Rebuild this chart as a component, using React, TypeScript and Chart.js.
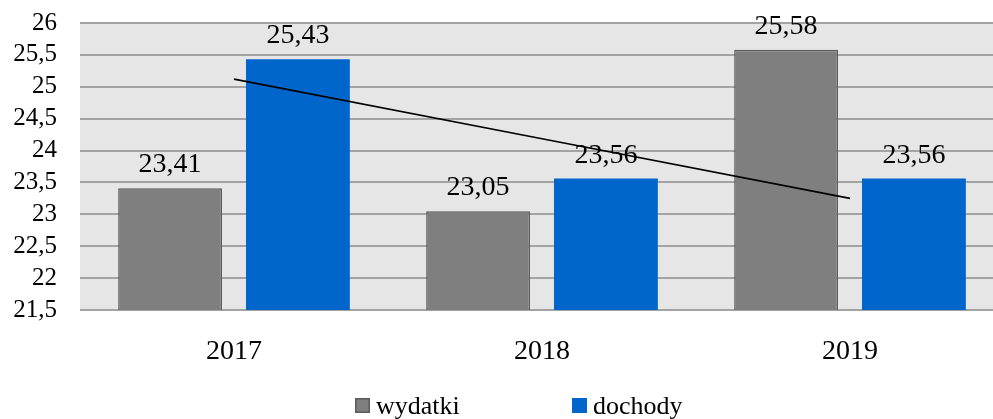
import { useEffect, useRef } from "react";
import { Chart, registerables } from "chart.js";

Chart.register(...registerables);

const categories = ["2017", "2018", "2019"];
const wydatki = [23.41, 23.05, 25.58];
const dochody = [25.43, 23.56, 23.56];
const trendDochody = [25.12, 24.185, 23.25];
const yMin = 21.5;
const yMax = 26;
const yStep = 0.5;

const seriesNames = ["wydatki", "dochody"];
const grayFill = "#7f7f7f";
const grayBorder = "#5c5c5c";
const blueFill = "#0066cc";
const FONT = "'Liberation Serif', 'Times New Roman', serif";

const fmt = (v: number, digits?: number) =>
  (digits === undefined ? String(v) : v.toFixed(digits)).replace(".", ",");

const plotBg = {
  id: "plotBg",
  beforeDraw(chart: any) {
    const { ctx, chartArea } = chart;
    ctx.save();
    ctx.fillStyle = "#e6e6e6";
    ctx.fillRect(chartArea.left, chartArea.top, chartArea.right - chartArea.left, chartArea.bottom - chartArea.top);
    ctx.restore();
  },
};

const dataLabels = {
  id: "dataLabels",
  afterDatasetsDraw(chart: any) {
    const { ctx } = chart;
    ctx.save();
    ctx.font = `28px ${FONT}`;
    ctx.fillStyle = "#000";
    ctx.textAlign = "center";
    ctx.textBaseline = "alphabetic";
    chart.data.datasets.forEach((ds: any, i: number) => {
      if (ds.type === "line") return;
      const meta = chart.getDatasetMeta(i);
      meta.data.forEach((el: any, j: number) => {
        ctx.fillText(fmt(ds.data[j], 2), el.x, el.y - 16);
      });
    });
    ctx.restore();
  },
};

const customLegend = {
  id: "customLegend",
  afterDraw(chart: any) {
    const { ctx } = chart;
    const items = [
      { label: seriesNames[0], fill: grayFill, stroke: grayBorder, x: 355 },
      { label: seriesNames[1], fill: blueFill, stroke: blueFill, x: 572 },
    ];
    ctx.save();
    ctx.font = `26px ${FONT}`;
    ctx.textBaseline = "alphabetic";
    ctx.textAlign = "left";
    items.forEach((it) => {
      ctx.fillStyle = it.fill;
      ctx.fillRect(it.x, 398, 15, 15);
      ctx.strokeStyle = it.stroke;
      ctx.lineWidth = 1.5;
      ctx.strokeRect(it.x + 0.75, 398.75, 13.5, 13.5);
      ctx.fillStyle = "#000";
      ctx.fillText(it.label, it.x + 21, 414);
    });
    ctx.restore();
  },
};

export default function App() {
  const ref = useRef<HTMLCanvasElement>(null);
  useEffect(() => {
    if (!ref.current) return;
    const chart = new Chart(ref.current, {
      type: "bar",
      data: {
        labels: categories,
        datasets: [
          {
            type: "line",
            label: "trend",
            data: trendDochody,
            borderColor: "#000",
            borderWidth: 1.6,
            pointRadius: 0,
            fill: false,
            order: 0,
          } as any,
          {
            label: seriesNames[0],
            data: wydatki,
            backgroundColor: grayFill,
            borderColor: grayBorder,
            borderWidth: 1.5,
            categoryPercentage: 0.83,
            barPercentage: 0.8125,
            order: 1,
          },
          {
            label: seriesNames[1],
            data: dochody,
            backgroundColor: blueFill,
            borderColor: blueFill,
            borderWidth: 0,
            categoryPercentage: 0.83,
            barPercentage: 0.8125,
            order: 1,
          },
        ],
      },
      options: {
        responsive: false,
        animation: false,
        devicePixelRatio: 1,
        layout: { padding: { left: 0, right: 6, top: 23, bottom: 0 } },
        plugins: {
          legend: { display: false },
          tooltip: { enabled: false },
        },
        scales: {
          x: {
            grid: { display: false },
            border: { display: false },
            ticks: {
              color: "#000",
              font: { family: FONT, size: 28 },
              padding: 17,
              maxRotation: 0,
            },
            afterFit: (scale: any) => {
              scale.height = 109;
              scale.paddingLeft = 0;
              scale.paddingRight = 0;
            },
          },
          y: {
            min: yMin,
            max: yMax,
            grid: { color: "#a3a3a3", lineWidth: 2, drawTicks: false },
            border: { display: false },
            ticks: {
              stepSize: yStep,
              autoSkip: false,
              color: "#000",
              font: { family: FONT, size: 25 },
              padding: 23,
              callback: (v: any) => fmt(Number(v)),
            },
            afterFit: (scale: any) => {
              scale.width = 80;
              scale.paddingTop = 0;
              scale.paddingBottom = 0;
            },
          },
        },
      },
      plugins: [plotBg, dataLabels, customLegend],
    });
    return () => chart.destroy();
  }, []);
  return (
    <div style={{ position: "fixed", left: 0, top: 0, width: 993, height: 419, overflow: "hidden", background: "#fff" }}>
      <canvas ref={ref} width={1010} height={419} style={{ display: "block" }} />
    </div>
  );
}
